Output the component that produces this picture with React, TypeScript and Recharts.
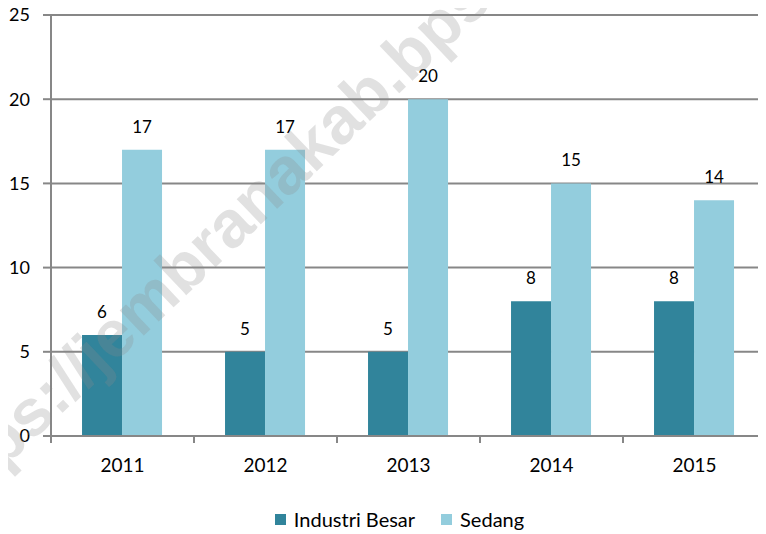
import React from 'react';
import { BarChart, Bar, XAxis, YAxis, CartesianGrid, Legend, LabelList } from 'recharts';

const years = ['2011', '2012', '2013', '2014', '2015'];
const industriBesar = [6, 5, 5, 8, 8];
const sedang = [17, 17, 20, 15, 14];
const yTicks = [0, 5, 10, 15, 20, 25];
const seriesNames = ['Industri Besar', 'Sedang'];
const watermarkText = 'https://jembranakab.bps.go.id';

const data = years.map((y, i) => ({ year: y, industri: industriBesar[i], sedang: sedang[i] }));

const COLORS = ['#31849B', '#93CDDD'];
const GRID = '#878787';
const FONT = 'Lato, "Open Sans", sans-serif';

const XTick = (props: any) => {
  const { x, y, payload } = props;
  const off = payload && typeof payload.offset === 'number' ? payload.offset : 71.5;
  return (
    <g>
      <line x1={x - off} x2={x - off} y1={y} y2={y + 7} stroke={GRID} strokeWidth={2} />
      <text x={x} y={y + 36} textAnchor="middle" fontFamily={FONT} fontSize={19} fill="#000">
        {payload.value}
      </text>
    </g>
  );
};

const LegendContent = () => (
  <div
    style={{
      display: 'flex',
      justifyContent: 'center',
      alignItems: 'center',
      paddingLeft: 25,
      height: 30,
      fontFamily: FONT,
      fontSize: 20,
      color: '#000',
    }}
  >
    {seriesNames.map((n, i) => (
      <div key={n} style={{ display: 'flex', alignItems: 'center', marginRight: i === 0 ? 26 : 0 }}>
        <span style={{ width: 11, height: 11, background: COLORS[i], display: 'inline-block', marginRight: 8 }} />
        <span>{n}</span>
      </div>
    ))}
  </div>
);

export default function App() {
  return (
    <div style={{ position: 'relative', width: 758, height: 534, marginTop: -8 }}>
      <BarChart
        width={758}
        height={534}
        data={data}
        margin={{ top: 15, right: 0, bottom: 0, left: 0 }}
        barCategoryGap="21.7%"
        barGap={0}
      >
        <CartesianGrid vertical={false} stroke={GRID} strokeWidth={2} />
        <XAxis
          dataKey="year"
          height={68}
          tickSize={0}
          tickMargin={0}
          tickLine={false}
          axisLine={{ stroke: GRID, strokeWidth: 2 }}
          tick={<XTick />}
          interval={0}
        />
        <YAxis
          width={43}
          domain={[0, 25]}
          ticks={yTicks}
          interval={0}
          tickSize={8}
          tickMargin={13}
          axisLine={{ stroke: GRID, strokeWidth: 2 }}
          tickLine={{ stroke: GRID, strokeWidth: 2 }}
          tick={{ fontFamily: FONT, fontSize: 18, fill: '#000' }}
        />
        <Legend verticalAlign="bottom" height={30} content={<LegendContent />} />
        <Bar dataKey="industri" name={seriesNames[0]} fill={COLORS[0]} isAnimationActive={false}>
          <LabelList dataKey="industri" position="top" offset={17} fontFamily={FONT} fontSize={17} fill="#000" />
        </Bar>
        <Bar dataKey="sedang" name={seriesNames[1]} fill={COLORS[1]} isAnimationActive={false}>
          <LabelList dataKey="sedang" position="top" offset={17} fontFamily={FONT} fontSize={17} fill="#000" />
        </Bar>
      </BarChart>
      <svg
        width={758}
        height={534}
        style={{ position: 'absolute', left: 0, top: 0, pointerEvents: 'none', overflow: 'visible' }}
      >
        <text
          x={-67}
          y={528}
          transform="rotate(-43.5 -67 528)"
          fontFamily='"Liberation Sans", Arial, sans-serif'
          fontWeight="bold"
          fontSize={66}
          fill="rgba(140,140,140,0.26)"
        >
          {watermarkText}
        </text>
      </svg>
    </div>
  );
}
